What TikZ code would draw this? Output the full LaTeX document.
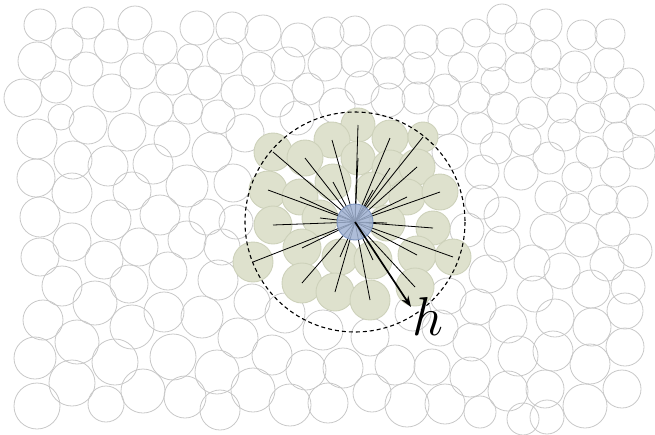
\documentclass[tikz,border=0pt]{standalone}
\usepackage{tikz}
\usetikzlibrary{arrows.meta}
\definecolor{graingray}{RGB}{200,200,200}
\definecolor{neighfill}{RGB}{222,225,205}
\definecolor{neighdraw}{RGB}{205,209,186}
\definecolor{probefill}{RGB}{160,178,210}
\definecolor{probedraw}{RGB}{125,148,190}
\tikzset{
  grain/.style={draw=graingray,line width=0.8pt},
  neighbour/.style={draw=neighdraw,fill=neighfill,line width=0.9pt},
  bond/.style={black,line width=0.8pt},
  probe/.style={draw=probedraw,fill=probefill,fill opacity=0.85,line width=0.9pt},
  cutoff/.style={black,line width=1.1pt,dash pattern=on 4pt off 3pt},
  radius arrow/.style={-{Stealth[length=11pt,width=8pt]},line width=1.7pt,black}
}

\begin{document}
\begin{tikzpicture}[x=1pt,y=-1pt]
  \useasboundingbox (0,0) rectangle (655,434);

  % background grains
  \foreach \x/\y/\r in {
    40/25/16, 88/23/16, 135/23/17, 197/28/17, 67/44/16, 111/46/17, 160/48/17,
    37/61/19, 86/69/17, 138/71/18, 190/57/13, 172/79/16, 205/83/17, 23/98/19,
    56/87/16, 112/93/19, 156/109/17, 188/109/15, 61/117/13, 88/125/19,
    127/132/19, 37/139/20, 172/139/18, 212/152/20, 73/160/19, 108/166/20,
    153/164/20, 36/178/19, 72/193/20, 132/191/19, 187/186/21, 40/217/20,
    111/220/20, 160/215/20, 218/117/17, 245/133/19, 233/183/19, 207/217/18,
    236/222/17,
    232/28/16, 263/33/18, 298/40/17, 328/33/16, 355/31/15, 388/42/17,
    421/42/17, 225/56/18, 258/69/17, 288/64/17, 325/64/17, 357/61/16,
    389/73/16, 419/68/16, 238/92/17, 277/100/17, 308/89/16, 337/106/18,
    362/88/17, 388/100/17, 418/98/16, 297/118/17,
    502/19/15, 546/25/16, 476/33/14, 582/35/15, 610/34/15, 450/42/14,
    520/38/15, 492/57/14, 546/55/15, 463/67/15, 520/68/15, 575/67/16,
    609/63/15, 495/81/14, 546/83/15, 592/87/15, 629/83/15, 445/90/16,
    474/98/16, 503/108/16, 532/113/16, 562/108/15, 590/118/15, 615/108/15,
    642/120/16, 443/120/15, 477/128/16, 525/140/16, 564/135/16, 618/137/15,
    496/148/16, 450/152/18, 549/158/16, 592/152/16, 639/153/16, 482/172/17,
    521/173/17, 577/177/15, 615/172/15, 482/202/17, 551/197/16, 575/208/15,
    603/200/15, 632/202/16, 502/215/18, 467/230/17,
    548/232/18, 582/240/17, 613/229/17, 635/251/17, 502/244/18, 532/263/18,
    562/271/18, 607/264/17, 488/274/19, 448/296/18, 535/294/18, 591/289/19,
    628/287/17, 478/307/18, 508/324/19, 555/318/19, 592/327/19, 625/311/18,
    440/328/18, 472/342/19, 518/356/20, 553/351/20, 590/364/20, 625/347/19,
    470/377/20, 508/391/20, 545/389/19, 585/406/22, 622/389/19, 445/404/20,
    480/412/16, 523/419/16, 547/417/17,
    72/242/19, 40/257/19, 104/260/19, 139/247/19, 187/240/19, 168/271/19,
    222/247/18, 62/286/20, 95/303/22, 129/284/19, 164/312/20, 202/317/21,
    218/280/20, 43/320/20, 77/342/22, 132/327/22, 35/358/21, 115/362/23,
    173/357/23, 72/383/23, 37/406/23, 106/404/18, 143/391/22, 185/397/21,
    252/302/18,
    238/338/20, 285/313/20, 323/330/20, 370/337/19, 413/313/18, 272/355/20,
    217/372/22, 306/370/20, 343/368/20, 395/365/20, 432/367/18, 253/390/22,
    220/410/20, 290/405/21, 328/403/20, 372/393/19, 407/405/22}
    \draw[grain] (\x,\y) circle[radius=\r];

  % neighbours inside the cut-off
  \coordinate (c) at (355,222);
  \foreach \x/\y/\r in {
    358/125/17, 332/140/18, 390/138/18, 423/137/15, 273/152/19, 305/158/18,
    358/158/17, 390/168/18, 417/167/18, 333/182/18, 268/190/19, 300/197/18,
    373/190/18, 407/197/18, 440/192/18, 273/225/19, 320/218/18, 387/223/18,
    433/228/17, 302/248/19, 340/257/18, 373/260/19, 417/255/19, 453/257/18,
    253/262/20, 302/283/20, 335/292/19, 370/300/20, 415/287/19}
    \draw[neighbour] (\x,\y) circle[radius=\r];
  \foreach \x/\y in {
    358/125, 332/140, 390/138, 423/137, 273/152, 305/158, 358/158, 390/168,
    417/167, 333/182, 268/190, 300/197, 373/190, 407/197, 440/192, 273/225,
    320/218, 387/223, 433/228, 302/248, 340/257, 373/260, 417/255, 453/257,
    253/262, 302/283, 335/292, 370/300, 415/287}
    \draw[bond] (c) -- (\x,\y);

  % central particle, cut-off and radius
  \draw[probe] (c) circle[radius=18];
  \draw[cutoff] (c) circle[radius=110];
  \coordinate (tip) at (411,307);
  \draw[radius arrow] (c) -- (tip);
  \node[font=\Huge,scale=2.2,inner sep=0pt] (hlabel) at (428,316) {$h$};
\end{tikzpicture}
\end{document}
